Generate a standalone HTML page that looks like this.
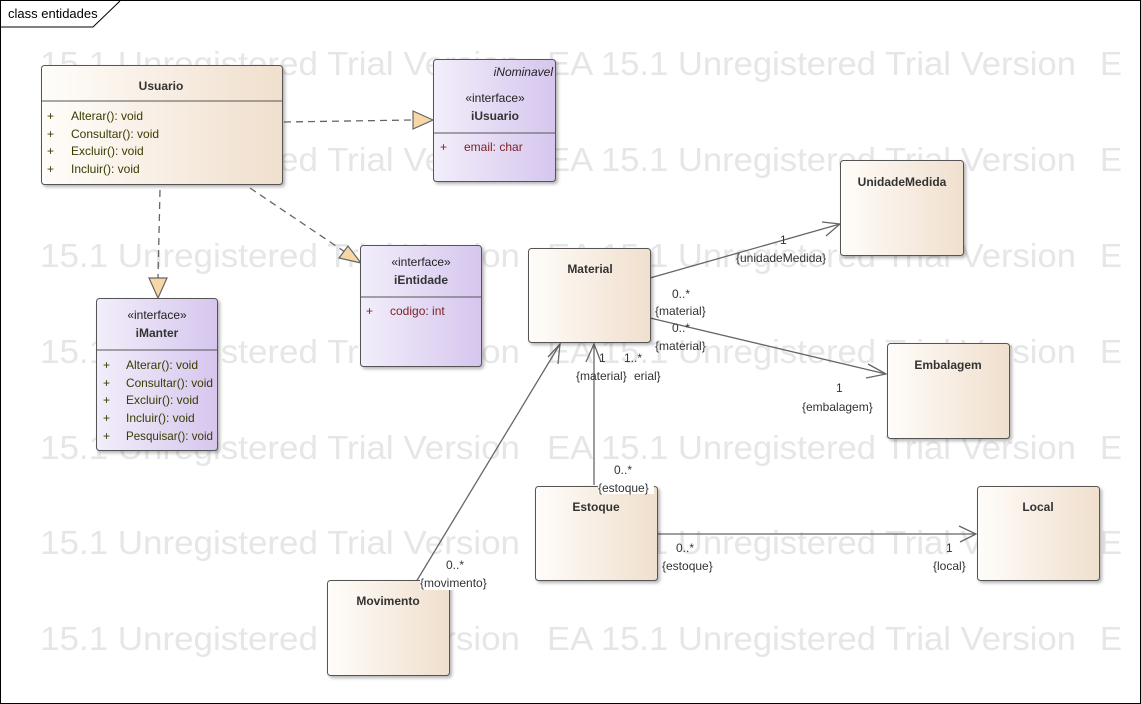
<!DOCTYPE html>
<html><head><meta charset="utf-8"><style>
body{margin:0;background:#fff}
svg{display:block;font-family:"Liberation Sans","DejaVu Sans",sans-serif}
.wm{font-size:33px;fill:#e6e6e6}
.t{font-size:12px;fill:#222}
.b{font-size:12px;font-weight:bold;fill:#333}
.m{font-size:12px;fill:#3a3a00}
.a{font-size:12px;fill:#7a1f1f}
.l{font-size:12px;fill:#333}
</style></head><body>
<svg width="1141" height="704" viewBox="0 0 1141 704" xmlns="http://www.w3.org/2000/svg">
<defs>
<linearGradient id="cg" x1="0" x2="1"><stop offset="0" stop-color="#fffdfa"/><stop offset="1" stop-color="#f0dfcd"/></linearGradient>
<linearGradient id="ig" x1="0" x2="1"><stop offset="0" stop-color="#f2eefa"/><stop offset="1" stop-color="#d6c6ee"/></linearGradient>
<filter id="sh" x="-10%" y="-10%" width="130%" height="130%"><feDropShadow dx="2" dy="2" stdDeviation="1.5" flood-color="#000" flood-opacity="0.3"/></filter>
<g id="wr"><text x="40" textLength="480" lengthAdjust="spacingAndGlyphs">15.1 Unregistered Trial Version</text><text x="547" textLength="529" lengthAdjust="spacingAndGlyphs">EA 15.1 Unregistered Trial Version</text><text x="1100">E</text></g>
</defs>
<rect x="0.5" y="0.5" width="1140" height="703" fill="#fff" stroke="#000"/>
<g class="wm">
<use href="#wr" y="75"/><use href="#wr" y="171"/><use href="#wr" y="267"/><use href="#wr" y="363"/><use href="#wr" y="459"/><use href="#wr" y="554"/><use href="#wr" y="650"/>
</g>
<path d="M1 27 H93 L120 1" fill="#fff" stroke="#000"/>
<text x="8" y="18" style="font-size:13px" fill="#000">class entidades</text>

<g stroke="#666" stroke-width="1.3" fill="none">
<path d="M284 122 L413 120" stroke-dasharray="7,5"/>
<path d="M160 190 L158 278" stroke-dasharray="7,5"/>
<path d="M250 188 L345 252" stroke-dasharray="7,5"/>
<path d="M650 278 L840 224 M822 222 L840 224 L826 236"/>
<path d="M650 318 L886 374 M868 364 L886 374 L866 378"/>
<path d="M594 485 L594 344 M586 362 L594 344 L601 362"/>
<path d="M416 582 L560 344 M548 357 L560 344 L558 364"/>
<path d="M657 534 L976 534 M959 526 L976 534 L960 542"/>
</g>
<g fill="#f7d7a8" stroke="#666" stroke-width="1.2">
<path d="M433 120 L413 111 L413 129 Z"/>
<path d="M158 298 L149 278 L167 278 Z"/>
<path d="M361 263 L339 258 L348 246 Z"/>
</g>

<g filter="url(#sh)"><rect x="41.5" y="65.5" width="241" height="119" rx="3" fill="url(#cg)" stroke="#555"/></g>
<line x1="41" y1="101" x2="282" y2="101" stroke="#555"/>
<text x="161" y="90" class="b" text-anchor="middle">Usuario</text>
<g class="m"><text x="47" y="120">+</text><text x="71" y="120">Alterar(): void</text>
<text x="47" y="138">+</text><text x="71" y="138">Consultar(): void</text>
<text x="47" y="155">+</text><text x="71" y="155">Excluir(): void</text>
<text x="47" y="173">+</text><text x="71" y="173">Incluir(): void</text></g>

<g filter="url(#sh)"><rect x="433.5" y="59.5" width="122" height="122" rx="3" fill="url(#ig)" stroke="#555"/></g>
<line x1="433" y1="133" x2="556" y2="133" stroke="#555"/>
<text x="553" y="76" class="t" font-style="italic" text-anchor="end">iNominavel</text>
<text x="495" y="102" class="t" text-anchor="middle">«interface»</text>
<text x="495" y="120" class="b" text-anchor="middle">iUsuario</text>
<text x="440" y="151" class="a">+</text><text x="464" y="151" class="a">email: char</text>

<g filter="url(#sh)"><rect x="96.5" y="298.5" width="121" height="152" rx="3" fill="url(#ig)" stroke="#555"/></g>
<line x1="96" y1="350" x2="218" y2="350" stroke="#555"/>
<text x="157" y="319" class="t" text-anchor="middle">«interface»</text>
<text x="157" y="337" class="b" text-anchor="middle">iManter</text>
<g class="m"><text x="103" y="369">+</text><text x="126" y="369">Alterar(): void</text>
<text x="103" y="387">+</text><text x="126" y="387" textLength="87" lengthAdjust="spacingAndGlyphs">Consultar(): void</text>
<text x="103" y="404">+</text><text x="126" y="404">Excluir(): void</text>
<text x="103" y="422">+</text><text x="126" y="422">Incluir(): void</text>
<text x="103" y="440">+</text><text x="126" y="440" textLength="87" lengthAdjust="spacingAndGlyphs">Pesquisar(): void</text></g>

<g filter="url(#sh)"><rect x="360.5" y="245.5" width="121" height="121" rx="3" fill="url(#ig)" stroke="#555"/></g>
<line x1="360" y1="297" x2="482" y2="297" stroke="#555"/>
<text x="421" y="266" class="t" text-anchor="middle">«interface»</text>
<text x="421" y="284" class="b" text-anchor="middle">iEntidade</text>
<text x="366" y="315" class="a">+</text><text x="390" y="315" class="a">codigo: int</text>

<g filter="url(#sh)">
<rect x="528.5" y="248.5" width="122" height="94" rx="3" fill="url(#cg)" stroke="#555"/>
<rect x="840.5" y="160.5" width="123" height="95" rx="3" fill="url(#cg)" stroke="#555"/>
<rect x="887.5" y="343.5" width="122" height="95" rx="3" fill="url(#cg)" stroke="#555"/>
<rect x="535.5" y="486.5" width="122" height="94" rx="3" fill="url(#cg)" stroke="#555"/>
<rect x="977.5" y="486.5" width="122" height="94" rx="3" fill="url(#cg)" stroke="#555"/>
<rect x="327.5" y="580.5" width="122" height="95" rx="3" fill="url(#cg)" stroke="#555"/>
</g>
<text x="590" y="273" class="b" text-anchor="middle">Material</text>
<text x="902" y="186" class="b" text-anchor="middle">UnidadeMedida</text>
<text x="948" y="369" class="b" text-anchor="middle">Embalagem</text>
<text x="596" y="511" class="b" text-anchor="middle">Estoque</text>
<text x="1038" y="511" class="b" text-anchor="middle">Local</text>
<text x="388" y="605" class="b" text-anchor="middle">Movimento</text>

<g class="l">
<text x="780" y="244">1</text><text x="736" y="262">{unidadeMedida}</text>
<text x="672" y="298">0..*</text><text x="655" y="315">{material}</text>
<text x="672" y="332">0..*</text><text x="655" y="350">{material}</text>
<text x="836" y="392">1</text><text x="802" y="411">{embalagem}</text>
<text x="599" y="362">1</text><text x="624" y="362">1..*</text>
<text x="576" y="380">{material}</text><text x="634" y="380">erial}</text>
<rect x="598" y="480" width="56" height="14" fill="#fff"/>
<text x="614" y="474">0..*</text><text x="598" y="492">{estoque}</text>
<text x="676" y="552">0..*</text><text x="662" y="570">{estoque}</text>
<text x="946" y="552">1</text><text x="933" y="570">{local}</text>
<rect x="420" y="576" width="74" height="14" fill="#fff"/>
<text x="446" y="569">0..*</text><text x="420" y="587">{movimento}</text>
</g>
</svg>
</body></html>
